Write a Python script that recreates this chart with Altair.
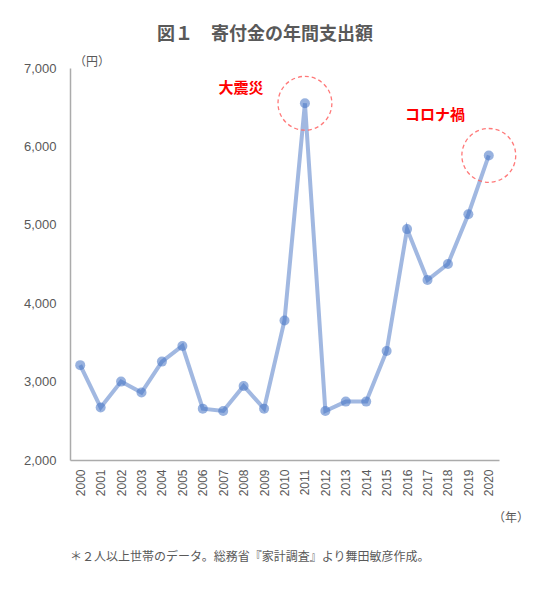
import altair as alt
import pandas as pd

years = [str(y) for y in range(2000, 2021)]
values = [3210, 2670, 3000, 2860, 3255, 3455, 2655, 2625, 2945, 2655,
          3780, 6550, 2625, 2745, 2745, 3390, 4945, 4295, 4500, 5135, 5885]
highlight_years = ["2011", "2020"]

title_text = "図１　寄付金の年間支出額"
note_text = "＊２人以上世帯のデータ。総務省『家計調査』より舞田敏彦作成。"
label_quake = "大震災"
label_corona = "コロナ禍"
unit_y = "（円）"
unit_x = "（年）"

df = pd.DataFrame({"year": years, "value": values})
hl = df[df["year"].isin(highlight_years)]

FONT = "Noto Sans CJK JP"
GRAY = "#595959"
BLUE = "#4472c4"

x = alt.X("year:O", title=None,
          axis=alt.Axis(labelAngle=-90, labelFontSize=12, labelColor=GRAY,
                        labelPadding=9, ticks=False, domainColor="#ababab",
                        domainWidth=1.5, labelFont="Liberation Sans"))
y = alt.Y("value:Q", title=None,
          scale=alt.Scale(domain=[2000, 7000], nice=False, zero=False),
          axis=alt.Axis(values=[2000, 3000, 4000, 5000, 6000, 7000], format=",.0f",
                        labelFontSize=13, labelColor=GRAY, labelPadding=14,
                        ticks=False, grid=False, domainColor="#ababab",
                        domainWidth=1.5, labelFont="Liberation Sans"))

base = alt.Chart(df)
line = base.mark_line(color=BLUE, strokeWidth=4, opacity=0.5).encode(x=x, y=y)
pts = base.mark_circle(color=BLUE, size=100, opacity=0.55).encode(x=x, y=y)
rings = alt.Chart(hl).mark_point(shape="circle", size=2900, filled=False,
                                 color="#ff6b6b", strokeWidth=1.3,
                                 strokeDash=[4, 3], opacity=0.9).encode(x=x, y=y)

def txt(t, xp, yp, **kw):
    return alt.Chart(pd.DataFrame({"t": [t]})).mark_text(text=t, font=FONT, **kw).encode(
        x=alt.value(xp), y=alt.value(yp))

t_quake = txt(label_quake, 171, 20, fontSize=15, fontWeight="bold", color="#ff0000")
t_corona = txt(label_corona, 365, 47, fontSize=15, fontWeight="bold", color="#ff0000")
t_uy = txt(unit_y, 4, -6, fontSize=12, color=GRAY, align="left")
t_ux = txt(unit_x, 423, 450, fontSize=12, color=GRAY, align="left")
t_note = txt(note_text, 0, 489, fontSize=12, color=GRAY, align="left")
t_title = txt(title_text, 195, -33, fontSize=18, fontWeight="bold", color=GRAY)

chart = alt.layer(line, pts, rings, t_quake, t_corona, t_uy, t_ux, t_note, t_title).properties(
    width=429, height=392,
    autosize=alt.AutoSizeParams(type="none"),
    padding={"left": 62, "top": 60, "right": 36, "bottom": 118},
).configure(background="white", view=alt.ViewConfig(stroke=None))

chart.save("out.html", embed_options={"renderer": "svg", "actions": False})
